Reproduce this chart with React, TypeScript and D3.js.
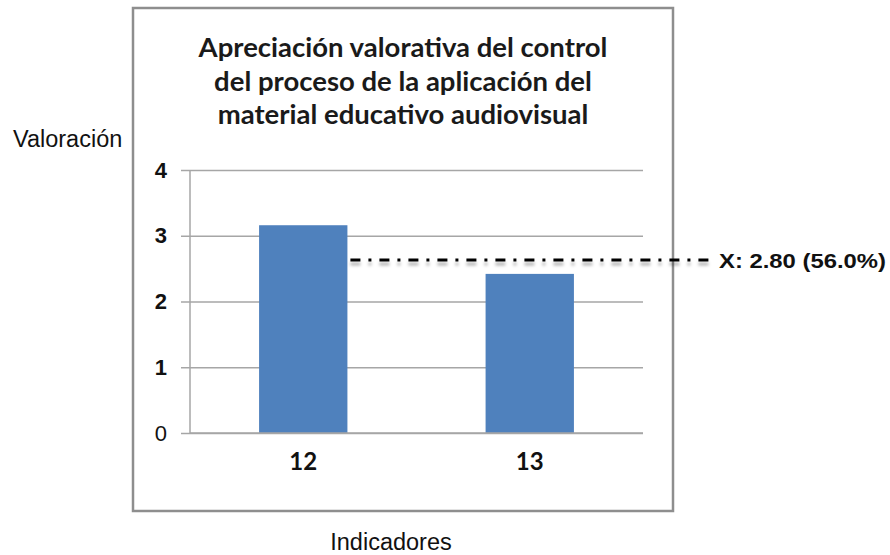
import { useEffect, useRef } from "react";
import * as d3 from "d3";

// Datos
const indicadores = ["12", "13"];
const valores = [3.16, 2.42];
const ticksY = [0, 1, 2, 3, 4];
const tituloLineas = [
  "Apreciación valorativa del control",
  "del proceso de la aplicación del",
  "material educativo audiovisual",
];
const lineaMedia = 2.63; // altura a la que está dibujada la línea en el gráfico
const etiquetaMedia = "X: 2.80 (56.0%)";

const width = 890;
const height = 555;

export default function App() {
  const svgRef = useRef<SVGSVGElement | null>(null);

  useEffect(() => {
    const svg = d3.select(svgRef.current);
    svg.selectAll("*").remove();

    const plot = { left: 190, right: 643, top: 170, bottom: 433 };
    const frame = { left: 133, right: 673, top: 8, bottom: 511 };

    const x = d3
      .scaleBand()
      .domain(indicadores)
      .range([plot.left, plot.right])
      .paddingInner(0.61)
      .paddingOuter(0.305);

    const y = d3.scaleLinear().domain([0, 4]).range([plot.bottom, plot.top]);

    const defs = svg.append("defs");
    const filtro = defs
      .append("filter")
      .attr("id", "sombra")
      .attr("filterUnits", "userSpaceOnUse")
      .attr("x", 0)
      .attr("y", 0)
      .attr("width", width)
      .attr("height", height);
    filtro
      .append("feDropShadow")
      .attr("dx", 0)
      .attr("dy", 4)
      .attr("stdDeviation", 1.6)
      .attr("flood-color", "#000")
      .attr("flood-opacity", 0.3);

    svg.append("rect").attr("width", width).attr("height", height).attr("fill", "#fff");

    // Marco del gráfico
    svg
      .append("rect")
      .attr("x", frame.left)
      .attr("y", frame.top)
      .attr("width", frame.right - frame.left)
      .attr("height", frame.bottom - frame.top)
      .attr("fill", "#fff")
      .attr("stroke", "#8e8e8e")
      .attr("stroke-width", 2.5);

    // Título
    const titulo = svg
      .append("text")
      .attr("x", (frame.left + frame.right) / 2)
      .attr("text-anchor", "middle")
      .style("font-family", "Lato, 'Open Sans', sans-serif")
      .style("font-weight", "bold")
      .style("font-size", "27.5px")
      .attr("fill", "#1a1a1a");
    tituloLineas.forEach((t, i) => {
      titulo
        .append("tspan")
        .attr("x", (frame.left + frame.right) / 2)
        .attr("y", 57 + i * 33.5)
        .text(t);
    });

    // Grelha horizontal
    svg
      .append("g")
      .attr("transform", `translate(${plot.left},0)`)
      .call(
        d3
          .axisLeft(y)
          .tickValues(ticksY)
          .tickSize(-(plot.right - plot.left))
          .tickFormat(() => "")
      )
      .call((g) => g.select(".domain").remove())
      .selectAll("line")
      .attr("stroke", "#a6a6a6")
      .attr("stroke-width", 1.5);

    // Eje Y
    const ejeY = svg
      .append("g")
      .attr("transform", `translate(${plot.left},0)`)
      .call(
        d3
          .axisLeft(y)
          .tickValues(ticksY)
          .tickFormat(d3.format("d"))
          .tickSize(9)
          .tickPadding(14)
      );
    ejeY
      .select(".domain")
      .attr("stroke", "#a6a6a6")
      .attr("stroke-width", 1.5)
      .attr("d", `M0,${plot.top}V${plot.bottom}`);
    ejeY.selectAll(".tick line").attr("stroke", "#a6a6a6").attr("stroke-width", 1.5);
    ejeY
      .selectAll(".tick text")
      .attr("fill", "#111")
      .style("font-family", "'Liberation Sans', Arial, sans-serif")
      .style("font-size", "22px")
      .style("font-weight", (d) => ((d as number) === 0 ? "normal" : "bold"));

    // Barras
    svg
      .selectAll(".barra")
      .data(valores)
      .enter()
      .append("rect")
      .attr("class", "barra")
      .attr("x", (_, i) => x(indicadores[i]) as number)
      .attr("y", (d) => y(d))
      .attr("width", x.bandwidth())
      .attr("height", (d) => y(0) - y(d))
      .attr("fill", "#4f81bd");

    // Eje X
    svg
      .append("line")
      .attr("x1", plot.left)
      .attr("x2", plot.right)
      .attr("y1", y(0))
      .attr("y2", y(0))
      .attr("stroke", "#a6a6a6")
      .attr("stroke-width", 1.5);

    svg
      .selectAll(".etqX")
      .data(indicadores)
      .enter()
      .append("text")
      .attr("class", "etqX")
      .attr("x", (d) => (x(d) as number) + x.bandwidth() / 2)
      .attr("y", 470)
      .attr("text-anchor", "middle")
      .attr("fill", "#111")
      .style("font-family", "Lato, 'Open Sans', sans-serif")
      .style("font-weight", "bold")
      .style("font-size", "24px")
      .text((d) => d);

    // Línea de la media
    const x1 = (x(indicadores[0]) as number) + x.bandwidth() + 3;
    svg
      .append("line")
      .attr("x1", x1)
      .attr("x2", 713)
      .attr("y1", y(lineaMedia))
      .attr("y2", y(lineaMedia))
      .attr("stroke", "#000")
      .attr("stroke-width", 3)
      .attr("stroke-dasharray", "10,8,3,8")
      .attr("filter", "url(#sombra)");

    svg
      .append("text")
      .attr("x", 719)
      .attr("y", y(lineaMedia) + 8)
      .attr("fill", "#111")
      .style("font-family", "'Liberation Sans', Arial, sans-serif")
      .style("font-weight", "bold")
      .style("font-size", "21px")
      .attr("textLength", 167)
      .attr("lengthAdjust", "spacingAndGlyphs")
      .text(etiquetaMedia);

    // Títulos de los ejes
    svg
      .append("text")
      .attr("x", 13)
      .attr("y", 147)
      .attr("fill", "#111")
      .style("font-family", "'Liberation Sans', Arial, sans-serif")
      .style("font-size", "23.5px")
      .text("Valoración");

    svg
      .append("text")
      .attr("x", 391)
      .attr("y", 550)
      .attr("text-anchor", "middle")
      .attr("fill", "#111")
      .style("font-family", "'Liberation Sans', Arial, sans-serif")
      .style("font-size", "23.5px")
      .text("Indicadores");
  }, []);

  return (
    <div style={{ position: "absolute", left: 0, top: 0 }}>
      <svg ref={svgRef} width={width} height={height} style={{ display: "block" }}></svg>
    </div>
  );
}
